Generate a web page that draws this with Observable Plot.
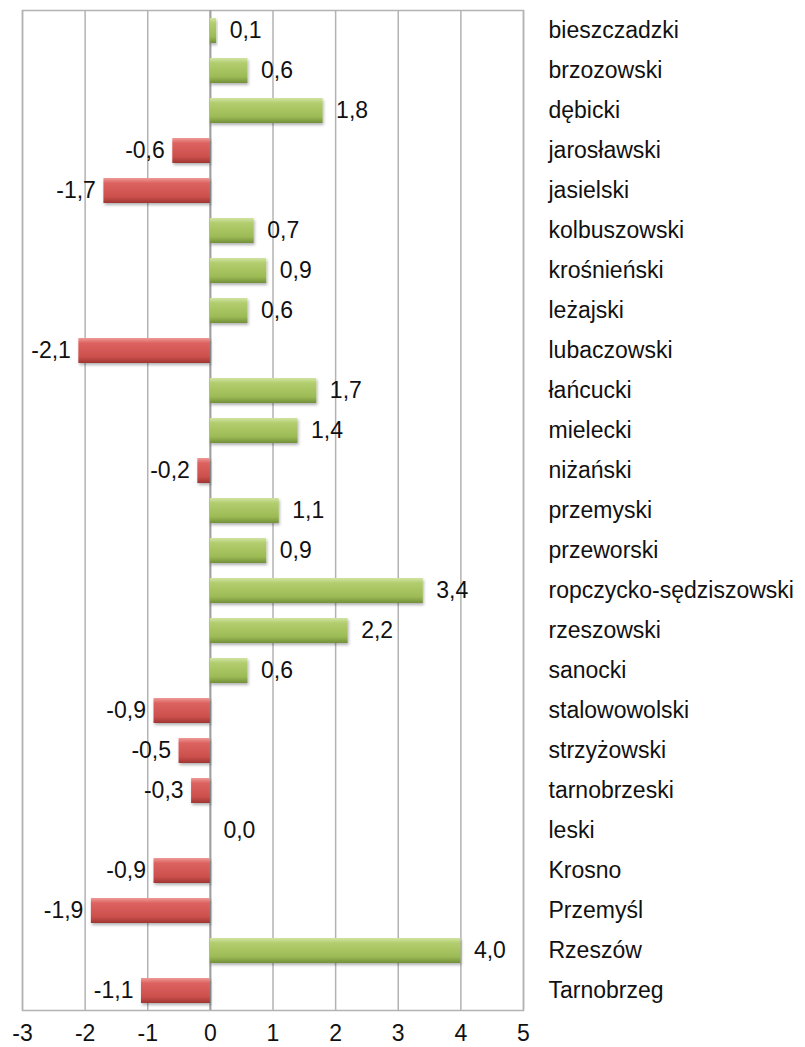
<!DOCTYPE html>
<html>
<head>
<meta charset="utf-8">
<script src="https://cdn.jsdelivr.net/npm/d3@7"></script>
<script src="https://cdn.jsdelivr.net/npm/@observablehq/plot@0.6"></script>
<style>
  html, body { margin: 0; padding: 0; background: #fff; }
</style>
</head>
<body>
<div id="chart"></div>
<script>
const names = ["bieszczadzki","brzozowski","dębicki","jarosławski","jasielski","kolbuszowski","krośnieński","leżajski","lubaczowski","łańcucki","mielecki","niżański","przemyski","przeworski","ropczycko-sędziszowski","rzeszowski","sanocki","stalowowolski","strzyżowski","tarnobrzeski","leski","Krosno","Przemyśl","Rzeszów","Tarnobrzeg"];
const values = [0.1,0.6,1.8,-0.6,-1.7,0.7,0.9,0.6,-2.1,1.7,1.4,-0.2,1.1,0.9,3.4,2.2,0.6,-0.9,-0.5,-0.3,0.0,-0.9,-1.9,4.0,-1.1];
const xTicks = [-3,-2,-1,0,1,2,3,4,5];

const data = names.map((n, i) => ({name: n, value: values[i]}));
const fmt = v => v.toFixed(1).replace(".", ",");

const FS = 23;
const grid = "#b3b3b3";
const chart = Plot.plot({
  width: 805,
  height: 1047,
  marginLeft: 22,
  marginRight: 282,
  marginTop: 10,
  marginBottom: 37,
  style: {fontFamily: "'Liberation Sans', Arial, sans-serif", fontSize: FS + "px", color: "#111", background: "white"},
  x: {domain: [-3, 5], label: null},
  y: {domain: names, paddingInner: 0.38, paddingOuter: 0.19, label: null},
  marks: [
    Plot.gridX(xTicks, {stroke: grid, strokeOpacity: 1, strokeWidth: 1.5}),
    Plot.frame({stroke: grid, strokeWidth: 1.5}),
    Plot.ruleX([0], {stroke: "#a0a0a0", strokeWidth: 2}),
    Plot.barX(data.filter(d => d.value >= 0), {x: "value", y: "name", fill: "url(#gGreen)"}),
    Plot.barX(data.filter(d => d.value < 0), {x: "value", y: "name", fill: "url(#gRed)"}),
    Plot.text(data.filter(d => d.value >= 0), {x: "value", y: "name", text: d => fmt(d.value), textAnchor: "start", dx: 13, fontSize: FS, fill: "#111"}),
    Plot.text(data.filter(d => d.value < 0), {x: "value", y: "name", text: d => fmt(d.value), textAnchor: "end", dx: -8, fontSize: FS, fill: "#111"}),
    Plot.axisX(xTicks, {anchor: "bottom", tickSize: 0, tickPadding: 14, tickFormat: d => String(d), fontSize: FS, label: null}),
    Plot.axisY({anchor: "right", tickSize: 0, tickPadding: 25, fontSize: FS, label: null, textAnchor: "start"})
  ]
});

const svg = d3.select(chart);
svg.insert("defs", ":first-child").html(`
  <linearGradient id="gGreen" x1="0" y1="0" x2="0" y2="1">
    <stop offset="0" stop-color="#d2e4a4"/>
    <stop offset="0.2" stop-color="#b2cd6e"/>
    <stop offset="0.75" stop-color="#9cbb55"/>
    <stop offset="1" stop-color="#73903a"/>
  </linearGradient>
  <linearGradient id="gRed" x1="0" y1="0" x2="0" y2="1">
    <stop offset="0" stop-color="#ef9a98"/>
    <stop offset="0.2" stop-color="#dc6360"/>
    <stop offset="0.75" stop-color="#cc4f4c"/>
    <stop offset="1" stop-color="#9e3532"/>
  </linearGradient>
  <filter id="sh" x="-10%" y="-30%" width="130%" height="180%">
    <feDropShadow dx="1" dy="2" stdDeviation="1.5" flood-color="#000" flood-opacity="0.3"/>
  </filter>
`);
svg.selectAll("g[aria-label='bar'] rect").attr("filter", "url(#sh)");

document.getElementById("chart").appendChild(chart);
</script>
</body>
</html>
